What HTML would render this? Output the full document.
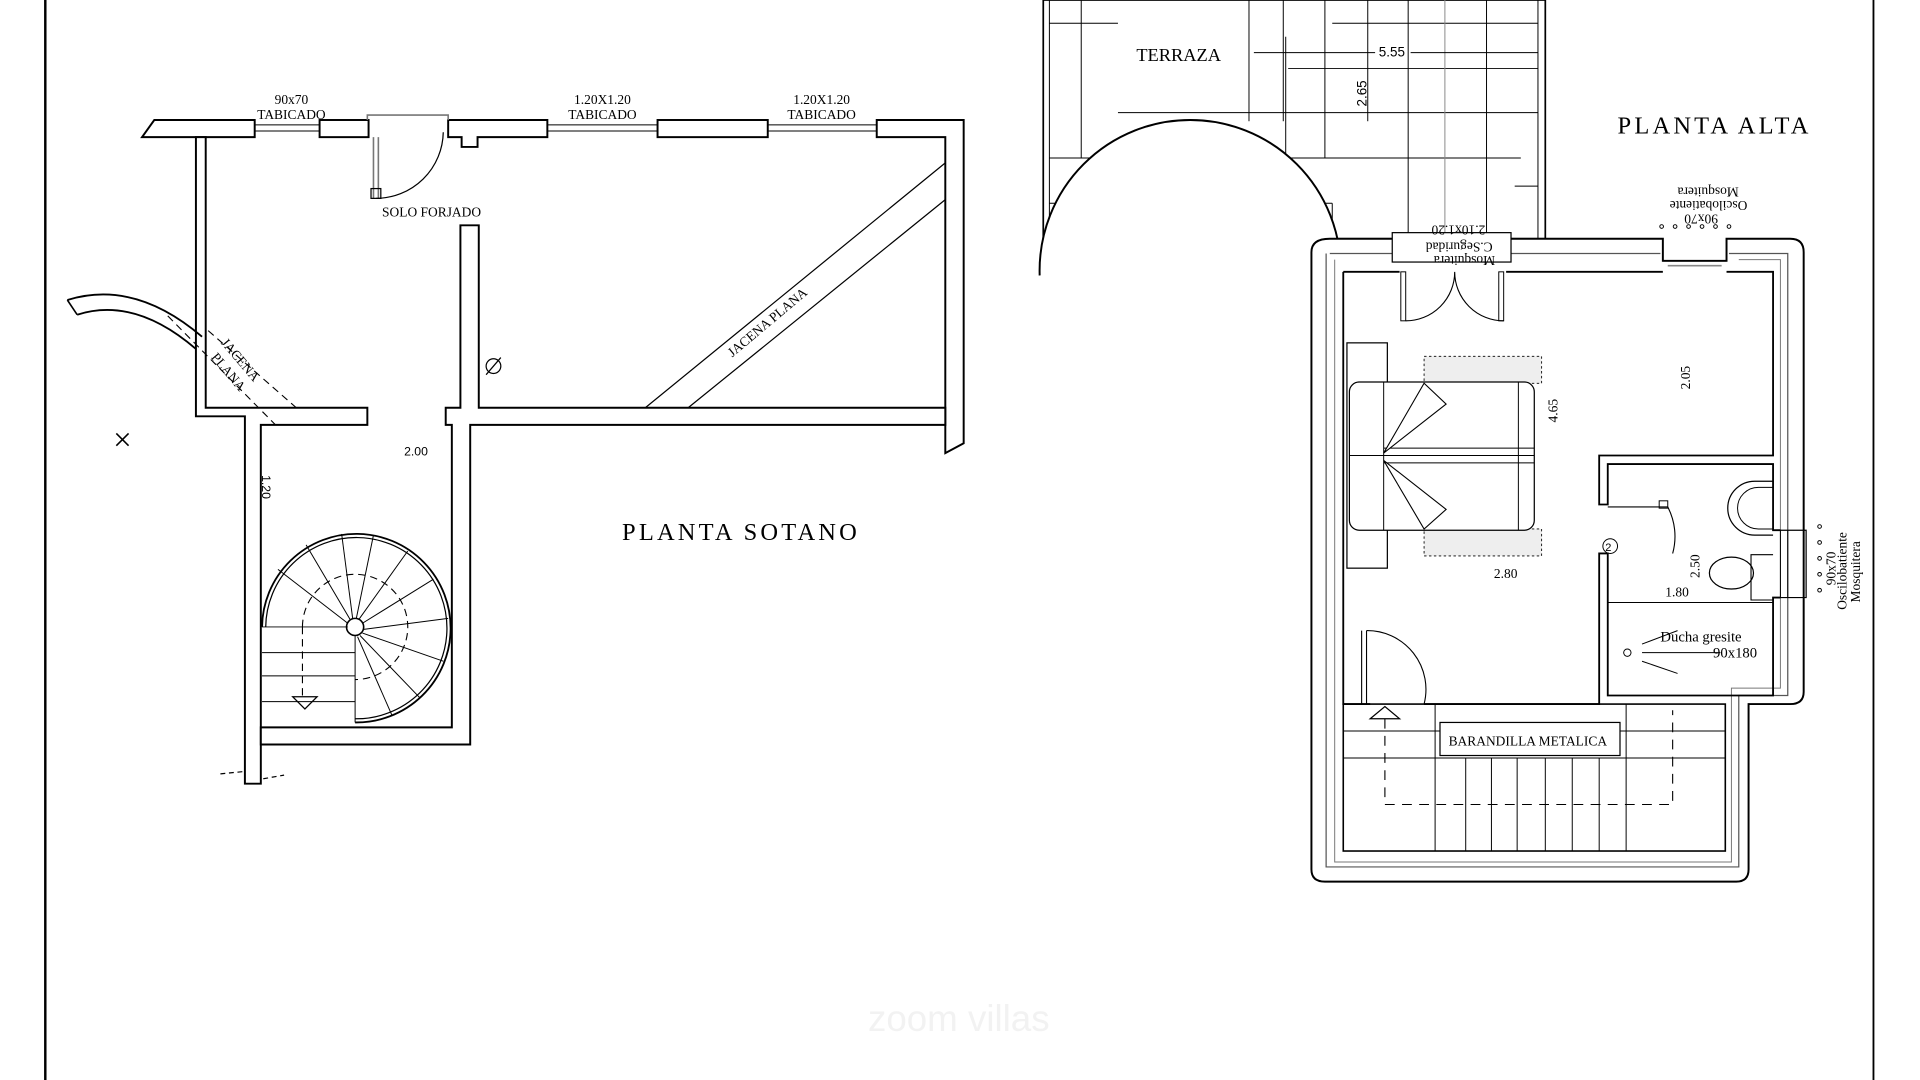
<!DOCTYPE html>
<html><head><meta charset="utf-8"><style>
html,body{margin:0;padding:0;background:#fff;width:1920px;height:1080px;overflow:hidden}
svg{display:block}
text{font-family:"Liberation Serif",serif;fill:#000}
.s{font-family:"Liberation Sans",sans-serif}
</style></head><body>
<svg width="1920" height="1080" viewBox="0 0 1568 882" xmlns="http://www.w3.org/2000/svg">
<defs><clipPath id="cp"><polygon points="840,0 1100,0 1100,196 840,226"/></clipPath>
<clipPath id="cf"><rect x="840" y="0" width="300" height="224"/></clipPath></defs>
<rect width="1568" height="882" fill="#fff"/>
<g stroke="#000" fill="none" stroke-width="1.3">
<line x1="37" y1="0" x2="37" y2="882" stroke-width="2"/>
<line x1="1530" y1="0" x2="1530" y2="882" stroke-width="1.5"/>

<g fill="#fff" stroke-width="1.6">
<polygon points="126,98 208,98 208,112 168,112 160,112 116,112"/>
<rect x="261" y="98" width="40" height="14"/>
<polygon points="366,98 447,98 447,112 390,112 390,120 377,120 377,112 366,112"/>
<rect x="537" y="98" width="90" height="14"/>
<polygon points="716,98 787,98 787,362 772,370 772,112 716,112"/>
<polygon points="160,112 168,112 168,333 300,333 300,347 213,347 213,640 200,640 200,340 160,340"/>
<polygon points="376,184 391,184 391,333 772,333 772,347 384,347 384,608 213,608 213,594 369,594 369,347 364,347 364,333 376,333"/>
</g>
<line x1="208" y1="102" x2="261" y2="102" stroke-width="0.8"/><line x1="208" y1="107" x2="261" y2="107" stroke-width="0.8"/>
<line x1="447" y1="102" x2="537" y2="102" stroke-width="0.8"/><line x1="447" y1="107" x2="537" y2="107" stroke-width="0.8"/>
<line x1="627" y1="102" x2="716" y2="102" stroke-width="0.8"/><line x1="627" y1="107" x2="716" y2="107" stroke-width="0.8"/>
<path d="M300,98 V94 H366 V98" stroke="#777"/>
<path d="M305,112 V162 M309,112 V162" stroke="#777"/>
<path d="M307,162 A55,55 0 0 0 362,108" stroke-width="1"/>
<rect x="303" y="154" width="8" height="8" stroke-width="1"/>
<line x1="527" y1="333" x2="772" y2="133" stroke-width="1"/>
<line x1="562" y1="333" x2="772" y2="163" stroke-width="1"/>
<path d="M55,245 Q110,228 165,275" stroke-width="1.5"/>
<path d="M63,257 Q110,242 160,285" stroke-width="1.5"/>
<line x1="55" y1="245" x2="63" y2="257"/>
<line x1="137" y1="258" x2="225" y2="347" stroke-dasharray="6,4" stroke-width="0.9"/>
<line x1="170" y1="270" x2="242" y2="333" stroke-dasharray="6,4" stroke-width="0.9"/>
<circle cx="403" cy="299" r="6" stroke-width="1"/><line x1="397" y1="306" x2="409" y2="292" stroke-width="1"/>
<path d="M95,354 L105,364 M105,354 L95,364" stroke-width="1.3"/>
<path d="M180,632 L200,630 M215,636 L232,633" stroke-dasharray="4,3" stroke-width="1"/>
<path d="M214,512 A77,77 0 1 1 290,590" stroke-width="1.5"/>
<path d="M217,512 A74,74 0 1 1 290,587" stroke-width="1"/>
<circle cx="290" cy="512" r="7" fill="#fff"/>
<path d="M247,512 A43,43 0 1 1 290,555" stroke-dasharray="6,4" stroke-width="0.9"/>
<line x1="247" y1="512" x2="247" y2="570" stroke-dasharray="6,4" stroke-width="0.9"/>
<polygon points="239,569 259,569 249,579" fill="#fff" stroke-width="1"/>
<g stroke-width="0.8">
<line x1="214" y1="512" x2="284" y2="512"/><line x1="214" y1="533" x2="290" y2="533"/><line x1="214" y1="552" x2="290" y2="552"/><line x1="214" y1="573" x2="290" y2="573"/>
<line x1="290" y1="519" x2="290" y2="590"/>
<line x1="284" y1="509" x2="227" y2="465"/><line x1="286" y1="506" x2="250" y2="445"/><line x1="288" y1="505" x2="279" y2="436"/><line x1="291" y1="505" x2="305" y2="437"/><line x1="293" y1="506" x2="333" y2="450"/><line x1="296" y1="509" x2="354" y2="473"/><line x1="297" y1="514" x2="366" y2="505"/><line x1="296" y1="517" x2="362" y2="540"/><line x1="294" y1="519" x2="343" y2="570"/><line x1="292" y1="520" x2="320" y2="584"/>
</g>

<rect x="852" y="0" width="410" height="195" stroke-width="1.4"/>
<line x1="857" y1="0" x2="857" y2="195" stroke-width="0.8"/><line x1="1256" y1="0" x2="1256" y2="195" stroke-width="0.8"/>
<g stroke-width="0.8">
<line x1="857" y1="19" x2="913" y2="19"/><line x1="1088" y1="19" x2="1256" y2="19"/>
<line x1="1052" y1="56" x2="1256" y2="56"/><line x1="913" y1="92" x2="1256" y2="92"/>
<line x1="857" y1="129" x2="1242" y2="129"/><line x1="857" y1="166" x2="1088" y2="166"/>
<line x1="1088" y1="166" x2="1088" y2="195"/>
<line x1="1237" y1="152" x2="1256" y2="152"/>
<line x1="883" y1="0" x2="883" y2="129"/><line x1="1048" y1="0" x2="1048" y2="99"/>
<line x1="1082" y1="0" x2="1082" y2="129"/><line x1="1117" y1="0" x2="1117" y2="99"/>
<line x1="1150" y1="0" x2="1150" y2="195"/><line x1="1180" y1="0" x2="1180" y2="195" stroke="#888"/>
<line x1="1214" y1="0" x2="1214" y2="195"/><line x1="1050" y1="30" x2="1050" y2="129"/>
<line x1="1020" y1="0" x2="1020" y2="99"/><line x1="1015" y1="129" x2="1015" y2="195"/>
<line x1="1024" y1="43" x2="1123" y2="43"/><line x1="1152" y1="43" x2="1256" y2="43"/>
</g>
<circle cx="972" cy="221" r="123" fill="#fff" stroke="none" clip-path="url(#cf)"/>
<circle cx="972" cy="221" r="123" fill="none" stroke-width="1.6" clip-path="url(#cp)"/>

<path d="M1086,195 H1140 V213 H1233 V195 H1358 V213 H1410 V195 H1462 Q1473,195 1473,206 V565 Q1473,575 1462,575 H1428 V710 Q1428,720 1418,720 H1082 Q1071,720 1071,710 V206 Q1071,195 1086,195 Z" fill="#fff" stroke-width="1.6"/>
<path d="M1086,207 H1138 M1233,207 H1356 M1412,207 H1460 V568 H1420 V708 H1083 V207" stroke-width="1" stroke="#555"/>
<path d="M1090,212 V704 H1414 V562 H1454 V212 H1420" stroke-width="0.8" stroke="#777"/>
<path d="M1097,222 H1143 M1230,222 H1358 M1410,222 H1448 V372 H1306 V412 H1313 V379 H1448 V433 H1454 M1454,488 H1448 V568 H1313 V452 H1306 V575 H1163 M1119,575 H1097 V222" stroke-width="1.5"/>
<line x1="1358" y1="213" x2="1410" y2="213"/><line x1="1362" y1="217" x2="1406" y2="217" stroke="#888"/>
<line x1="1313" y1="492" x2="1448" y2="492" stroke-width="0.8"/>
<path d="M1148,262 A40,40 0 0 0 1188,222 A40,40 0 0 0 1228,262" stroke-width="0.9"/>
<rect x="1144" y="222" width="4" height="40" stroke-width="0.8"/><rect x="1224" y="222" width="4" height="40" stroke-width="0.8"/>
<path d="M1313,414 H1362 M1366,452 A52,52 0 0 0 1362,414" stroke-width="0.9"/>
<rect x="1355" y="409" width="7" height="6" stroke-width="0.8"/>
<path d="M1112,515 V575 M1116,515 V575" stroke-width="0.9"/>
<path d="M1116,515 A48,48 0 0 1 1163,575" stroke-width="0.9"/>
<rect x="1100" y="280" width="33" height="184" stroke-width="1"/>
<rect x="1163" y="291" width="96" height="22" fill="#eee" stroke-width="0.7" stroke-dasharray="2,2"/>
<rect x="1163" y="432" width="96" height="22" fill="#eee" stroke-width="0.7" stroke-dasharray="2,2"/>
<rect x="1102" y="312" width="151" height="121" rx="8" fill="#fff" stroke-width="1"/>
<line x1="1130" y1="312" x2="1130" y2="433" stroke-width="0.8"/>
<line x1="1102" y1="372" x2="1253" y2="372" stroke-width="0.8"/>
<line x1="1130" y1="366" x2="1253" y2="366" stroke-width="0.8"/><line x1="1130" y1="378" x2="1253" y2="378" stroke-width="0.8"/>
<line x1="1240" y1="312" x2="1240" y2="433" stroke-width="0.8"/>
<polygon points="1130,370 1163,313 1181,330" fill="#fff" stroke-width="0.9"/>
<polygon points="1130,376 1163,432 1181,416" fill="#fff" stroke-width="0.9"/>
<path d="M1448,393 H1433 A22,22 0 0 0 1433,437 H1448" stroke-width="1"/>
<path d="M1448,398 H1436 A17,17 0 0 0 1436,432 H1448" stroke-width="0.8"/>
<path d="M1448,453 H1430 V490 H1448" stroke-width="0.9"/>
<ellipse cx="1414" cy="468" rx="18" ry="13" stroke-width="1"/>
<line x1="1454" y1="433" x2="1454" y2="488" stroke-width="0.8"/><line x1="1460" y1="433" x2="1460" y2="488" stroke-width="0.8"/>
<path d="M1454,433 H1475 V488 H1454" stroke-width="1"/>
<circle cx="1329" cy="533" r="3" stroke-width="0.8"/>
<line x1="1341" y1="526" x2="1370" y2="515" stroke-width="0.8"/><line x1="1341" y1="533" x2="1405" y2="533" stroke-width="0.8"/><line x1="1341" y1="540" x2="1370" y2="550" stroke-width="0.8"/>
<circle cx="1315" cy="446" r="6" stroke-width="0.8"/>
<rect x="1097" y="575" width="312" height="120" stroke-width="1.3"/>
<g stroke-width="0.8">
<line x1="1097" y1="597" x2="1409" y2="597"/><line x1="1097" y1="619" x2="1409" y2="619"/>
<line x1="1172" y1="575" x2="1172" y2="695"/><line x1="1197" y1="619" x2="1197" y2="695"/><line x1="1218" y1="619" x2="1218" y2="695"/><line x1="1239" y1="619" x2="1239" y2="695"/><line x1="1262" y1="619" x2="1262" y2="695"/><line x1="1284" y1="619" x2="1284" y2="695"/><line x1="1306" y1="619" x2="1306" y2="695"/><line x1="1328" y1="575" x2="1328" y2="695"/>
</g>
<rect x="1176" y="590" width="147" height="27" fill="#fff" stroke-width="1"/>
<path d="M1131,587 V657 H1366 V580" stroke-dasharray="8,6" stroke-width="0.9"/>
<polygon points="1119,587 1131,577 1143,587" fill="#fff" stroke-width="1"/>
<rect x="1137" y="190" width="97" height="24" fill="#fff" stroke-width="1"/>
<g fill="none" stroke-width="0.8"><circle cx="1357" cy="185" r="1.5"/><circle cx="1368" cy="185" r="1.5"/><circle cx="1379" cy="185" r="1.5"/><circle cx="1390" cy="185" r="1.5"/><circle cx="1401" cy="185" r="1.5"/><circle cx="1412" cy="185" r="1.5"/>
<circle cx="1486" cy="430" r="1.5"/><circle cx="1486" cy="443" r="1.5"/><circle cx="1486" cy="456" r="1.5"/><circle cx="1486" cy="469" r="1.5"/><circle cx="1486" cy="482" r="1.5"/></g>
</g>

<g font-size="11">
<text x="238" y="85" text-anchor="middle">90x70</text>
<text x="238" y="97" text-anchor="middle">TABICADO</text>
<text x="492" y="85" text-anchor="middle">1.20X1.20</text>
<text x="492" y="97" text-anchor="middle">TABICADO</text>
<text x="671" y="85" text-anchor="middle">1.20X1.20</text>
<text x="671" y="97" text-anchor="middle">TABICADO</text>
<text x="312" y="177">SOLO FORJADO</text>
<text transform="translate(598,292) rotate(-40)">JACENA PLANA</text>
<text transform="translate(180,280) rotate(50)">JACENA</text>
<text transform="translate(172,292) rotate(50)">PLANA</text>
<text x="1183" y="609">BARANDILLA METALICA</text>
</g>
<text x="330" y="372" font-size="10" class="s">2.00</text>
<text transform="translate(214,388) rotate(90)" font-size="10" class="s">1.20</text>
<text x="508" y="441" font-size="20" letter-spacing="2.6">PLANTA SOTANO</text>
<text x="1321" y="109" font-size="20" letter-spacing="2.6">PLANTA ALTA</text>
<text x="928" y="50" font-size="15">TERRAZA</text>
<text x="1126" y="46" font-size="11" class="s">5.55</text>
<text transform="translate(1116,87) rotate(-90)" font-size="11" class="s">2.65</text>
<g font-size="11" class="s">
<text x="1220" y="472">2.80</text>
<text transform="translate(1272,345) rotate(-90)">4.65</text>
<text transform="translate(1380,318) rotate(-90)">2.05</text>
<text transform="translate(1388,472) rotate(-90)">2.50</text>
<text x="1360" y="487">1.80</text>
</g>
<text x="1311" y="450" font-size="9" class="s">2</text>
<text x="1356" y="524" font-size="12">Ducha gresite</text>
<text x="1399" y="537" font-size="12">90x180</text>
<g font-size="11">
<text transform="translate(1213,184) rotate(180)">2.10x1.20</text>
<text transform="translate(1219,198) rotate(180)">C.Seguridad</text>
<text transform="translate(1221,209) rotate(180)">Mosquitera</text>
<text transform="translate(1403,175) rotate(180)">90x70</text>
<text transform="translate(1427,164) rotate(180)">Oscilobatiente</text>
<text transform="translate(1420,153) rotate(180)">Mosquitera</text>
<text transform="translate(1499,478) rotate(-90)">90x70</text>
<text transform="translate(1508,498) rotate(-90)">Oscilobatiente</text>
<text transform="translate(1519,492) rotate(-90)">Mosquitera</text>
</g>
<text x="783" y="842" text-anchor="middle" font-size="30" class="s" style="fill:#f2f2f2">zoom villas</text>
</svg>
</body></html>
